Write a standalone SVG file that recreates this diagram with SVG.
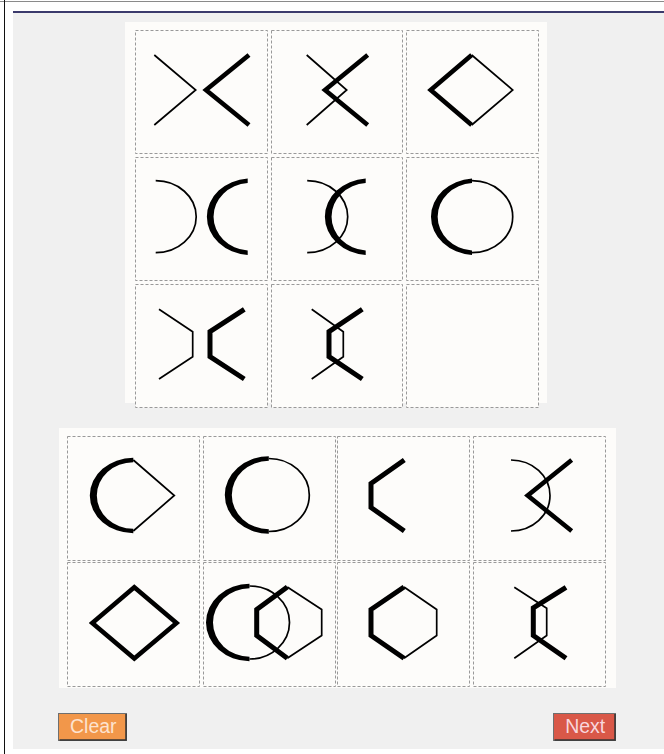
<svg xmlns="http://www.w3.org/2000/svg" width="664" height="754" viewBox="0 0 664 754">
<style>
.cell{fill:#fdfcfa;stroke:#999;stroke-width:1;stroke-dasharray:3 2}
.thin{fill:none;stroke:#000;stroke-width:1.7;stroke-linejoin:miter}
.thick{fill:none;stroke:#000;stroke-width:4.6;stroke-linejoin:miter}
.hexthick{fill:none;stroke:#000;stroke-width:5;stroke-linejoin:miter}
.blk{fill:#000;stroke:none}
.btn{font-family:"Liberation Sans",Arial,sans-serif;font-size:19.5px;text-anchor:middle}
</style>
<rect x="0" y="0" width="664" height="754" fill="#ffffff"/>
<line x1="0" y1="1.5" x2="664" y2="1.5" stroke="#8a8a8a" stroke-width="1"/>
<line x1="4.5" y1="0" x2="4.5" y2="754" stroke="#111" stroke-width="1"/>
<rect x="13" y="13" width="651" height="736" fill="#f0f0f0"/>
<line x1="13" y1="12" x2="664" y2="12" stroke="#3b3a6c" stroke-width="2"/>

<g id="question-panel">
<rect x="125" y="22" width="422" height="381" fill="#fdfcfa"/>
<g id="q1"><rect class="cell" x="135.5" y="30.5" width="132" height="123"/>
<path class="thin" d="M154.3,55 L195.7,90 L154.3,125"/>
<path class="thick" d="M249,55 L206,90 L249,125"/></g>
<g id="q2"><rect class="cell" x="271.5" y="30.5" width="131" height="123"/>
<path class="thin" d="M306.7,55 L346.7,90 L306.7,125"/>
<path class="thick" d="M367.7,55 L325,90 L367.7,125"/></g>
<g id="q3"><rect class="cell" x="406.5" y="30.5" width="132" height="123"/>
<path class="thick" d="M471.7,55 L430.7,90 L471.7,125"/>
<path class="thin" d="M471.7,55 L512.7,90 L471.7,125"/></g>

<g id="q4"><rect class="cell" x="135.5" y="157.5" width="132" height="123"/>
<path class="thin" d="M155.7,180.7 A40.5 36 0 0 1 155.7,252.7"/>
<path class="blk" d="M247.7,178.5 A44 38.3 0 0 0 247.7,254.9 L247.7,250.4 A37 33.8 0 0 1 247.7,183 Z"/></g>
<g id="q5"><rect class="cell" x="271.5" y="157.5" width="131" height="123"/>
<path class="thin" d="M307.2,180.7 A40.5 36 0 0 1 307.2,252.7"/>
<path class="blk" d="M365.7,178.5 A44 38.3 0 0 0 365.7,254.9 L365.7,250.4 A37 33.8 0 0 1 365.7,183 Z"/></g>
<g id="q6"><rect class="cell" x="406.5" y="157.5" width="132" height="123"/>
<path class="thin" d="M472,180.7 A40.7 36 0 0 1 472,252.7"/>
<path class="blk" d="M472,178.5 A44.2 38.3 0 0 0 472,254.9 L472,250.4 A37.2 33.8 0 0 1 472,183 Z"/></g>

<g id="q7"><rect class="cell" x="135.5" y="284.5" width="132" height="123"/>
<path class="thin" d="M159,309.3 L192.7,331.7 L192.7,356.7 L159,379"/>
<path class="hexthick" d="M244.3,309.3 L210,331.7 L210,356.7 L244.3,379"/></g>
<g id="q8"><rect class="cell" x="271.5" y="284.5" width="131" height="123"/>
<path class="thin" d="M311.7,309.3 L343.3,331.7 L343.3,356.7 L311.7,379"/>
<path class="hexthick" d="M362.3,309.3 L329,331.7 L329,356.7 L362.3,379"/></g>
<g id="q9"><rect class="cell" x="406.5" y="284.5" width="132" height="123"/></g>
</g>

<g id="answer-panel">
<rect x="59" y="428" width="557" height="260" fill="#fdfcfa"/>
<g id="a1"><rect class="cell" x="67.5" y="436.5" width="132" height="124"/>
<path class="blk" d="M133.3,457.8 A43.5 37.7 0 0 0 133.3,533.2 L133.3,528.8 A36.5 33.3 0 0 1 133.3,462.2 Z"/>
<path class="thin" d="M133.3,460 L174.3,495.5 L133.3,531"/></g>
<g id="a2"><rect class="cell" x="203.5" y="436.5" width="132" height="124"/>
<path class="blk" d="M268.8,456.3 A44 38.7 0 0 0 268.8,533.7 L268.8,529.2 A37 34.2 0 0 1 268.8,460.8 Z"/>
<path class="thin" d="M268.8,458.5 A40.5 36.5 0 0 1 268.8,531.5"/></g>
<g id="a3"><rect class="cell" x="337.5" y="436.5" width="132" height="124"/>
<path class="hexthick" d="M404.3,460 L371,483.5 L371,507.5 L404.3,531"/></g>
<g id="a4"><rect class="cell" x="473.5" y="436.5" width="132" height="124"/>
<path class="thin" d="M511,460 A39 35.5 0 0 1 511,531"/>
<path class="thick" d="M571.7,460 L527.7,495.5 L571.7,531"/></g>

<g id="a5"><rect class="cell" x="67.5" y="562.5" width="132" height="124"/>
<path class="thick" d="M134.3,587.3 L92.3,623 L134.3,658.5 L176.5,623 Z"/></g>
<g id="a6"><rect class="cell" x="203.5" y="562.5" width="132" height="124"/>
<path class="blk" d="M249.5,583.8 A43.5 38.7 0 0 0 249.5,661.2 L249.5,656.7 A36.5 34.2 0 0 1 249.5,588.3 Z"/>
<path class="thin" d="M249.5,586 A40 36.5 0 0 1 249.5,659"/>
<path class="hexthick" d="M287.3,587 L256.7,609.5 L256.7,635.5 L287.3,658.3"/>
<path class="thin" d="M287.3,587 L321.7,609.5 L321.7,635.5 L287.3,658.3"/></g>
<g id="a7"><rect class="cell" x="337.5" y="562.5" width="132" height="124"/>
<path class="hexthick" d="M404,587 L371,609.5 L371,635.5 L404,658.3"/>
<path class="thin" d="M404,587 L436.7,609.5 L436.7,635.5 L404,658.3"/></g>
<g id="a8"><rect class="cell" x="473.5" y="562.5" width="132" height="124"/>
<path class="thin" d="M514.3,587.3 L546.7,608.3 L546.7,635.5 L514.3,658.3"/>
<path class="hexthick" d="M566,587.3 L533.3,608 L533.3,635.5 L566,658.3"/></g>
</g>

<g id="clear-button">
<rect x="58.5" y="713.5" width="68" height="27" fill="#f2974a" stroke="#6f6f6f" stroke-width="1"/>
<path d="M59.5,740 L126,740 L126,714" fill="none" stroke="#333" stroke-width="1.5"/>
<text class="btn" x="93.3" y="733.3" fill="#fde3cf">Clear</text>
</g>
<g id="next-button">
<rect x="553.5" y="713.5" width="62" height="27" fill="#d95848" stroke="#6f6f6f" stroke-width="1"/>
<path d="M554.5,740 L615,740 L615,714" fill="none" stroke="#333" stroke-width="1.5"/>
<text class="btn" x="585.2" y="733.3" fill="#f8d6dc">Next</text>
</g>
</svg>
